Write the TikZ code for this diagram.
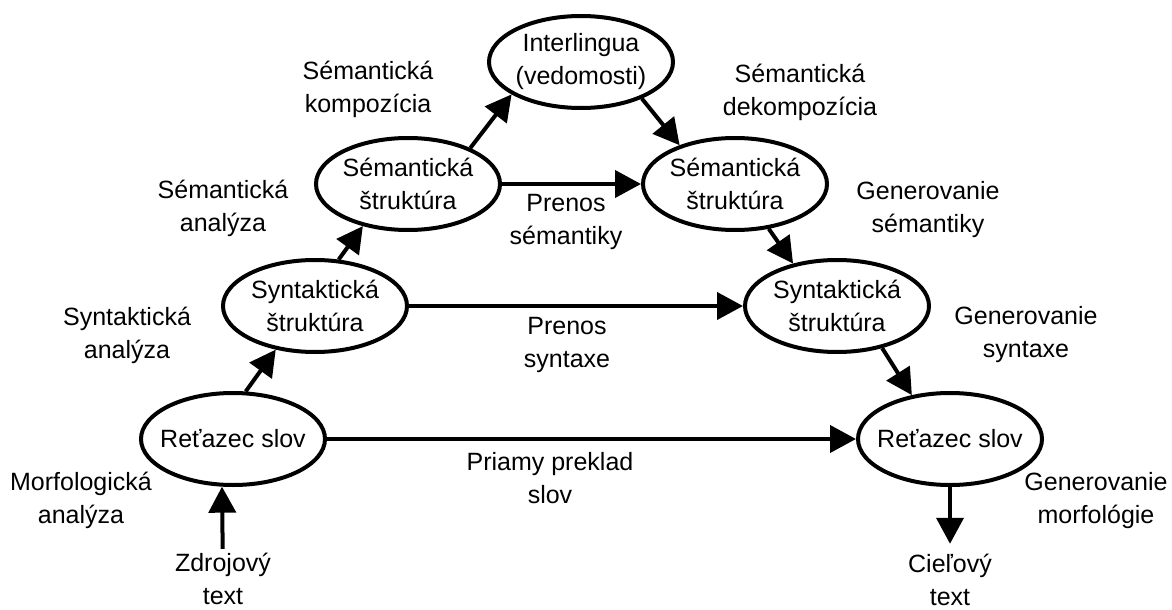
\documentclass[tikz,border=0pt]{standalone}
\usepackage{fontspec}
\setmainfont{Liberation Sans}
\usetikzlibrary{shapes.geometric,arrows.meta}
\begin{document}
\begin{tikzpicture}[x=0.5pt,y=-0.5pt,
    every node/.style={font=\fontsize{12.5}{16.5}\selectfont,align=center,inner sep=0pt},
    level/.style={ellipse,draw,line width=2pt,minimum width=92pt,minimum height=46pt,inner xsep=-6pt},
    >={Triangle[length=13pt,width=13.5pt]}]
      \useasboundingbox (0,0) rectangle (1172,610);
      \draw
        (581,62) node[level] (inter){Interlingua\\(vedomosti)}
        (408,184) node[level] (seml){Sémantická\\štruktúra}
        (735,184) node[level] (semr){Sémantická\\štruktúra}
        (315,306) node[level] (synl){Syntaktická\\štruktúra}
        (837,306) node[level] (synr){Syntaktická\\štruktúra}
        (233,439) node[level] (retl){Reťazec slov}
        (950,439) node[level] (retr){Reťazec slov}
        (223,579) node (src){Zdrojový\\text}
        (950,580) node (tgt){Cieľový\\text};
      % popisy prechodov
      \draw
        (368,89) node (komp){Sémantická\\kompozícia}
        (800,92) node (dekomp){Sémantická\\dekompozícia}
        (223,208) node (semana){Sémantická\\analýza}
        (127,335) node (synana){Syntaktická\\analýza}
        (81,500) node (morfana){Morfologická\\analýza}
        (566,222) node (prsem){Prenos\\sémantiky}
        (567,345) node (prsyn){Prenos\\syntaxe}
        (550,478) node (priamy){Priamy preklad\\slov}
        (928,210) node (gensem){Generovanie\\sémantiky}
        (1026,335) node (gensyn){Generovanie\\syntaxe}
        (1096,501) node (genmorf){Generovanie\\morfológie};
      \begin{scope}[->,line width=2pt]
        \draw[shorten <=2pt] (src) to (retl.257);
        \draw (retl.75) to (synl.228);
        \draw (synl.63) to (seml.223);
        \draw (seml.30) to (inter.205);
        \draw (inter.-31) to (semr.145);
        \draw (semr.-53) to (synr.136);
        \draw (synr.-43) to (retr.131);
        \draw[shorten >=5pt] (retr) to (tgt);
        \draw (seml) to (semr);
        \draw (synl) to (synr);
        \draw (retl) to (retr);
      \end{scope}
    \end{tikzpicture}
\end{document}
